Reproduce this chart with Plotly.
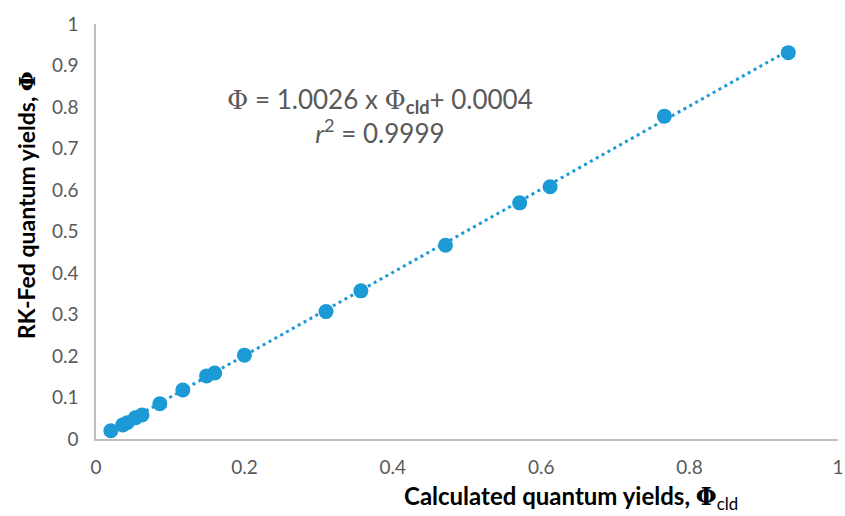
import plotly.graph_objects as go

# Data
calc_qy = [0.020, 0.036, 0.042, 0.053, 0.062, 0.086, 0.117, 0.149, 0.160, 0.200,
           0.310, 0.357, 0.471, 0.571, 0.612, 0.766, 0.933]
rkfed_qy = [0.020, 0.034, 0.039, 0.051, 0.058, 0.085, 0.118, 0.152, 0.159, 0.202,
            0.307, 0.357, 0.467, 0.569, 0.608, 0.778, 0.931]
slope = 1.0026
intercept = 0.0004
x_ticks = [0, 0.2, 0.4, 0.6, 0.8, 1]
y_ticks = [0, 0.1, 0.2, 0.3, 0.4, 0.5, 0.6, 0.7, 0.8, 0.9, 1]

BLUE = "#1C9AD6"
GRAY = "#595959"
PHI = '<span style="font-family:DejaVu Serif">Φ</span>'

trend_x = [min(calc_qy), max(calc_qy)]
trend_y = [slope * v + intercept for v in trend_x]

fig = go.Figure()
fig.add_trace(go.Scatter(x=trend_x, y=trend_y, mode="lines",
                         line=dict(color=BLUE, width=3, dash="3px,3.7px"),
                         hoverinfo="skip", showlegend=False))
fig.add_trace(go.Scatter(x=calc_qy, y=rkfed_qy, mode="markers",
                         marker=dict(color=BLUE, size=15, line=dict(width=0)),
                         showlegend=False))

fig.add_annotation(
    xref="paper", yref="paper", x=0.383, y=0.778, xanchor="center", yanchor="middle",
    text=f"{PHI} = 1.0026 x {PHI}<sub><b>cld</b></sub>+ 0.0004<br><i>r</i><sup>2</sup> = 0.9999",
    showarrow=False, align="center",
    font=dict(family="Lato", size=26, color=GRAY),
)
# axis titles (placed as in the reference)
fig.add_annotation(
    xref="paper", yref="paper", x=(571 - 96) / 742, y=(439 - 497) / 415,
    xanchor="center", yanchor="middle", showarrow=False,
    text=f"<b>Calculated quantum yields, {PHI}</b><sub>cld</sub>",
    font=dict(family="Lato", size=24, color="black"),
)
fig.add_annotation(
    xref="paper", yref="paper", x=(26 - 96) / 742, y=(439 - 205) / 415,
    xanchor="center", yanchor="middle", showarrow=False, textangle=-90,
    text=f"<b>RK-Fed quantum yields, {PHI}</b>",
    font=dict(family="Lato", size=23, color="black"),
)

fig.update_layout(
    width=845, height=516,
    margin=dict(l=96, r=7, t=24, b=77, autoexpand=False),
    paper_bgcolor="white", plot_bgcolor="white",
    font=dict(family="Lato", color=GRAY, size=19),
    xaxis=dict(range=[0, 1], tickvals=x_ticks, ticktext=[f"{v:g}" for v in x_ticks],
               showgrid=False, zeroline=False, showline=True, linecolor="#BFBFBF", linewidth=1.5,
               ticks="", ticklabelstandoff=10, automargin=False),
    yaxis=dict(range=[0, 1], tickvals=y_ticks, ticktext=[f"{v:g}" for v in y_ticks],
               showgrid=False, zeroline=False, showline=True, linecolor="#BFBFBF", linewidth=1.5,
               ticks="", ticklabelstandoff=12, automargin=False),
)

fig.write_html("out.html")
